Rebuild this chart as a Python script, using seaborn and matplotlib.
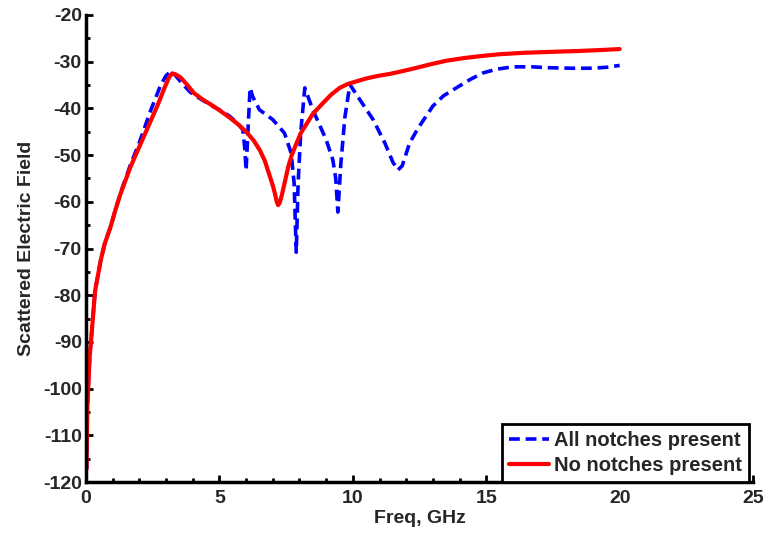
import numpy as np
import pandas as pd
import matplotlib
matplotlib.use("Agg")
import matplotlib.pyplot as plt
from matplotlib.ticker import MultipleLocator
import seaborn as sns

# Scattered field vs frequency, with and without notches
freq_none = [0.02, 0.05, 0.09, 0.14, 0.21, 0.34, 0.55, 0.7, 0.92, 1.1, 1.3, 1.67,
             2.17, 2.67, 2.95, 3.11, 3.23, 3.35, 3.55, 3.8, 4.04, 4.4, 4.77, 5.1,
             5.39, 5.7, 6.02, 6.3, 6.52, 6.7, 6.86, 7.0, 7.08, 7.15, 7.2, 7.26,
             7.33, 7.45, 7.58, 7.7, 7.85, 8.05, 8.27, 8.5, 8.89, 9.2, 9.51, 9.8,
             10.14, 10.5, 10.89, 11.4, 11.88, 12.4, 12.88, 13.5, 14.2, 14.8, 15.5,
             16.4, 17.4, 18.5, 19.3, 20.0]
field_none = [-117.2, -104, -99.1, -93, -88.3, -79.1, -72.6, -69, -65.4, -61.8,
              -58.2, -52.5, -46.0, -39.5, -35.5, -33.4, -32.5, -32.7, -33.4, -35.0,
              -36.7, -38.2, -39.5, -40.8, -42.0, -43.4, -45.1, -47.0, -49.0, -51.2,
              -54.0, -56.5, -58.2, -60.0, -60.7, -60.2, -58.8, -55.8, -52.5, -50.2,
              -48.0, -45.3, -43.3, -41.2, -38.8, -37.0, -35.6, -34.8, -34.2, -33.6,
              -33.1, -32.6, -32.0, -31.3, -30.6, -29.8, -29.2, -28.8, -28.4, -28.1,
              -27.9, -27.7, -27.5, -27.3]

freq_all = [0.02, 0.05, 0.09, 0.14, 0.21, 0.34, 0.55, 0.7, 0.92, 1.1, 1.3, 1.67,
            2.0, 2.42, 2.8, 3.0, 3.15, 3.3, 3.55, 3.9, 4.3, 4.77, 5.1, 5.39, 5.7,
            5.88, 5.95, 6.0, 6.06, 6.15, 6.25, 6.5, 7.0, 7.44, 7.69, 7.8, 7.88,
            7.95, 8.05, 8.2, 8.5, 9.0, 9.25, 9.36, 9.44, 9.55, 9.7, 9.89, 10.26,
            10.76, 11.2, 11.5, 11.69, 11.85, 12.13, 12.45, 13.0, 13.4, 13.88,
            14.4, 14.88, 15.4, 16.0, 16.7, 17.4, 18.2, 19.0, 19.5, 20.0]
field_all = [-117.2, -104, -99.1, -93, -88.3, -79.1, -72.6, -69, -65.4, -61.8,
             -58.0, -52.0, -47.3, -40.5, -35.0, -33.0, -32.2, -32.6, -34.3, -36.5,
             -38.0, -39.6, -40.6, -41.7, -43.3, -44.6, -48.5, -53.3, -46.0, -35.6,
             -37.5, -40.3, -42.4, -45.3, -49.6, -56.0, -70.8, -56.0, -45.0, -35.6,
             -40.3, -46.7, -51.0, -55.0, -62.2, -52.0, -42.0, -34.9, -38.1, -42.4,
             -47.4, -51.5, -53.2, -52.3, -47.4, -44.2, -39.5, -37.3, -35.6, -33.8,
             -32.4, -31.6, -31.1, -31.1, -31.3, -31.4, -31.4, -31.2, -30.8]

labels = ["All notches present", "No notches present"]

sns.set_style("ticks")
plt.rcParams["font.family"] = ["Liberation Sans", "DejaVu Sans"]
plt.rcParams["font.weight"] = "bold"
plt.rcParams["axes.unicode_minus"] = False

fig = plt.figure(figsize=(7.65, 5.35), dpi=100)
ax = fig.add_axes([0.1124, 0.099, 0.872, 0.873])

sns.lineplot(x=freq_all, y=field_all, ax=ax, color="#0000ff", linewidth=2.6,
             linestyle=(0, (3.0, 1.6)), label=labels[0], sort=False)
sns.lineplot(x=freq_none, y=field_none, ax=ax, color="#ff0000", linewidth=3.0,
             label=labels[1], sort=False)

ax.set_xlim(0, 25)
ax.set_ylim(-120, -20)
ax.xaxis.set_major_locator(MultipleLocator(5))
ax.xaxis.set_minor_locator(MultipleLocator(1))
ax.yaxis.set_major_locator(MultipleLocator(10))
ax.yaxis.set_minor_locator(MultipleLocator(5))
ax.tick_params(which="both", direction="in", width=2.0, color="black",
               labelsize=14)
ax.tick_params(axis="x", which="major", pad=6)
ax.tick_params(axis="y", which="major", pad=3)
ax.tick_params(which="major", length=5)
ax.tick_params(which="minor", length=3)
for lab in ax.get_xticklabels() + ax.get_yticklabels():
    lab.set_fontweight("bold")

for side in ("top", "right"):
    ax.spines[side].set_visible(False)
for side in ("left", "bottom"):
    ax.spines[side].set_linewidth(2.5)
    ax.spines[side].set_color("black")

ax.set_xlabel("Freq, GHz", fontsize=14, fontweight="bold", labelpad=2)
ax.set_ylabel("Scattered Electric Field", fontsize=14, fontweight="bold", labelpad=6)

leg = ax.legend(loc="lower right", bbox_to_anchor=(0.994, 0.0), borderaxespad=0,
                fancybox=False, framealpha=1, edgecolor="black", fontsize=14.5,
                handlelength=2.0, handletextpad=0.25, borderpad=0.35,
                labelspacing=0.3)
leg.get_frame().set_linewidth(2.0)
for t in leg.get_texts():
    t.set_fontweight("bold")

fig.savefig("out.png", dpi=100)
